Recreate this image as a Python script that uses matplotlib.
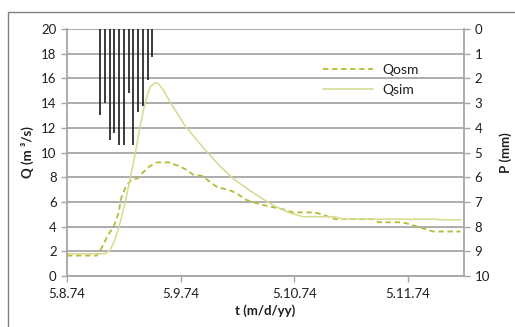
import numpy as np
import matplotlib
matplotlib.use("Agg")
import matplotlib.pyplot as plt
from matplotlib.patches import Rectangle

# time in days after 5.8.74, discharge in m3/s
t_osm = [0.0, 0.26, 0.30, 0.36, 0.41, 0.45, 0.48, 0.52, 0.57, 0.62, 0.67, 0.73, 0.79,
         0.90, 0.95, 0.99, 1.05, 1.11, 1.19, 1.26, 1.32, 1.43, 1.49, 1.58, 1.70, 1.80,
         1.90, 1.99, 2.17, 2.22, 2.30, 2.36, 2.70, 2.74, 2.95, 3.01, 3.10, 3.16, 3.22, 3.46]
q_osm = [1.65, 1.65, 2.2, 3.3, 4.0, 5.0, 6.4, 7.3, 7.8, 7.9, 8.4, 8.9, 9.2,
         9.2, 9.0, 8.9, 8.6, 8.2, 8.1, 7.6, 7.2, 6.95, 6.7, 6.15, 5.8, 5.6,
         5.4, 5.15, 5.15, 5.05, 4.8, 4.6, 4.6, 4.35, 4.35, 4.2, 3.94, 3.78, 3.6, 3.6]

t_sim = [0.0, 0.33, 0.38, 0.42, 0.466, 0.51, 0.554, 0.60, 0.642, 0.686, 0.73, 0.774, 0.80,
         0.847, 0.906, 0.98, 1.05, 1.08, 1.17, 1.23, 1.35, 1.46, 1.61, 1.73, 1.84, 1.96,
         2.08, 2.36, 2.42, 3.25, 3.28, 3.46]
q_sim = [1.8, 1.8, 2.1, 2.9, 4.27, 5.9, 7.8, 9.9, 12.1, 14.0, 15.3, 15.65, 15.6,
         15.06, 14.1, 13.0, 12.0, 11.7, 10.7, 10.06, 8.85, 7.9, 6.9, 6.2, 5.6, 5.1,
         4.8, 4.8, 4.6, 4.6, 4.55, 4.55]

# hourly rainfall (mm), hours 7..18 of 5.8.74
rain_hour = [7, 8, 9, 10, 11, 12, 13, 14, 15, 16, 17, 18]
rain_mm = [3.5, 3.0, 4.5, 4.2, 4.7, 4.7, 2.6, 4.7, 3.35, 3.1, 2.05, 1.15]

xtick_pos = [0, 1, 2, 3]
xtick_lab = ["5.8.74", "5.9.74", "5.10.74", "5.11.74"]

plt.rcParams['font.family'] = ['Lato', 'DejaVu Sans']
grid_c = '#a6a6a6'
txt_c = '#1f1f1f'
fs = 9.5

fig = plt.figure(figsize=(5.15, 3.27), dpi=100)
fig.patches.append(Rectangle((8 / 515, -0.1), 1.2, 1 - 12 / 327 + 0.1,
                             transform=fig.transFigure, fill=False,
                             edgecolor='#808080', linewidth=1))
ax = fig.add_axes([67 / 515, 1 - 276 / 327, (464 - 67) / 515, (276 - 29) / 327])

ax.plot(t_osm, q_osm, color='#b5bc36', linestyle=(0, (3, 2)), linewidth=1.3, label='Qosm')
ax.plot(t_sim, q_sim, color='#d6da8e', linewidth=1.1, label='Qsim')

ax.set_xlim(0, (464 - 67) / 113.7)
ax.set_ylim(0, 20)
ax.set_yticks(np.arange(0, 21, 2))
ax.set_xticks(xtick_pos)
ax.set_xticklabels(xtick_lab)
ax.grid(axis='y', color=grid_c, linewidth=1.3)
ax.set_axisbelow(True)
ax.spines['top'].set_visible(False)
for s in ['left', 'bottom', 'right']:
    ax.spines[s].set_color(grid_c)
    ax.spines[s].set_linewidth(1.3)
ax.tick_params(axis='both', colors=grid_c, labelcolor=txt_c, labelsize=fs, length=4, width=1)
ax.tick_params(axis='x', pad=5)
ax.set_xlabel("t (m/d/yy)", fontsize=fs, fontweight='bold', color=txt_c, labelpad=3)
ax.set_ylabel("Q (m \u00b3/s)", fontsize=fs, fontweight='bold', color=txt_c, labelpad=5)

leg = ax.legend(loc='upper left', bbox_to_anchor=(0.645, 0.86), frameon=False,
                borderaxespad=0, borderpad=0,
                fontsize=10, handlelength=3.6, handletextpad=0.7, labelspacing=0.6)
for t in leg.get_texts():
    t.set_color(txt_c)

ax2 = ax.twinx()
ax2.set_ylim(10, 0)
ax2.set_yticks(np.arange(0, 11, 1))
ax2.vlines(np.array(rain_hour) / 24.0, 0, rain_mm, color='#1a1a1a', linewidth=1.2)
for s in ax2.spines.values():
    s.set_visible(False)
ax2.tick_params(axis='y', colors=grid_c, labelcolor=txt_c, labelsize=fs, length=4, width=1)
ax2.set_ylabel("P (mm)", fontsize=fs, fontweight='bold', color=txt_c, labelpad=7)

fig.savefig("out.png", dpi=100)
